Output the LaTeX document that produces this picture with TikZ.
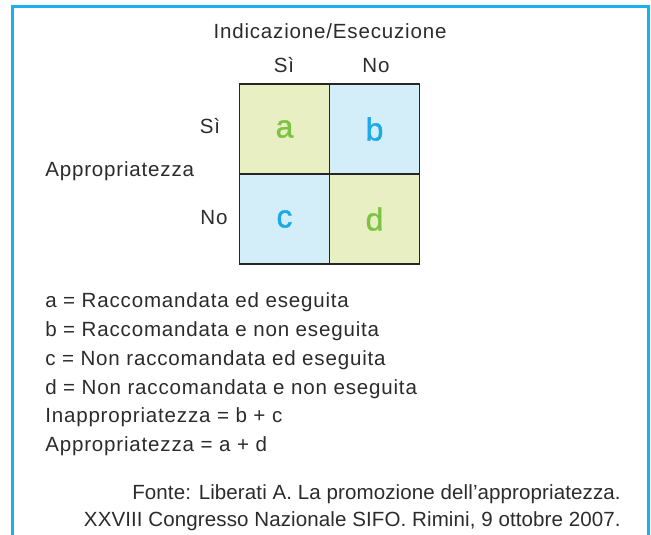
\documentclass[tikz,border=0pt]{standalone}
\usepackage{fontspec}
\setmainfont{Liberation Sans}[LetterSpace=4]
\newfontfamily\plainfont{Liberation Sans}[LetterSpace=0.5]
\newfontfamily\cellfont{Liberation Sans}[FakeBold=1.2]
\definecolor{framecyan}{HTML}{1AAFEE}
\definecolor{cellgreen}{HTML}{E8EFC2}
\definecolor{cellblue}{HTML}{D3EDF9}
\definecolor{lettergreen}{HTML}{7DC242}
\definecolor{letterblue}{HTML}{1AAAE8}
\definecolor{txt}{HTML}{2B2B2B}
\begin{document}
\begin{tikzpicture}[x=0.75pt,y=-0.75pt,
  lbl/.style={inner sep=0pt,text=txt,font=\fontsize{15.4pt}{18pt}\selectfont},
  src/.style={inner sep=0pt,text=txt,font=\plainfont\fontsize{15.4pt}{18pt}\selectfont},
  cell/.style={draw=black!85,line width=0.9pt,minimum width=67.5pt,minimum height=67.5pt,inner sep=0pt,
    font=\cellfont\fontsize{24pt}{28pt}\selectfont}]
\useasboundingbox (0,0) rectangle (651,535);
\draw[framecyan,line width=1.6pt] (12.5,540) -- (12.5,6.5) -- (648.5,6.5) -- (648.5,540);
\node[lbl,anchor=base] (title) at (330,38.5) {Indicazione/Esecuzione};
\node[lbl,anchor=base] (csi) at (284,73) {Sì};
\node[lbl,anchor=base] (cno) at (376,73) {No};
\node[cell,fill=cellgreen,text=lettergreen] (a) at (284.5,129) {a};
\node[cell,fill=cellblue,text=letterblue] (b) at (374.5,129) {b};
\node[cell,fill=cellblue,text=letterblue] (c) at (284.5,219) {c};
\node[cell,fill=cellgreen,text=lettergreen] (d) at (374.5,219) {d};
\node[lbl,anchor=base] (rsi) at (210,134) {Sì};
\node[lbl,anchor=base] (rno) at (214,224) {No};
\node[lbl,anchor=base west] (app) at (45,176.5) {Appropriatezza};
\node[lbl,anchor=base west] (l1) at (45,307.7) {a = Raccomandata ed eseguita};
\node[lbl,anchor=base west] (l2) at (45,336.5) {b = Raccomandata e non eseguita};
\node[lbl,anchor=base west] (l3) at (45,365.3) {c = Non raccomandata ed eseguita};
\node[lbl,anchor=base west] (l4) at (45,394.1) {d = Non raccomandata e non eseguita};
\node[lbl,anchor=base west] (l5) at (45,422.9) {Inappropriatezza = b + c};
\node[lbl,anchor=base west] (l6) at (45,451.7) {Appropriatezza = a + d};
\node[src,anchor=base east] (f1) at (621,499) {Fonte: Liberati A. La promozione dell’appropriatezza.};
\node[src,anchor=base east] (f2) at (621,526.7) {XXVIII Congresso Nazionale SIFO. Rimini, 9 ottobre 2007.};
\end{tikzpicture}
\end{document}
